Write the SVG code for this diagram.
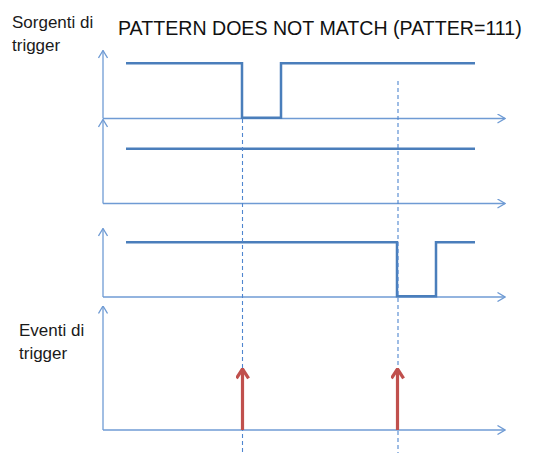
<svg xmlns="http://www.w3.org/2000/svg" width="538" height="453" viewBox="0 0 538 453">
<defs>
<style>
.axis{stroke:#6f9bd4;stroke-width:1.3;fill:none}
.sig{stroke:#4a7ebb;stroke-width:2.5;fill:none;stroke-linejoin:miter}
.dash{stroke:#4f86cf;stroke-width:1.1;stroke-dasharray:4 3;fill:none}
.ev{stroke:#c0504d;stroke-width:3.2;fill:none}
.lbl{font-family:"Liberation Sans",Arial,sans-serif;font-size:17px;fill:#1a1a1a}
.title{font-family:"Liberation Sans",Arial,sans-serif;font-size:19.6px;fill:#111}
</style>
<marker id="ah" viewBox="0 0 10 10" refX="9.5" refY="5" markerWidth="10" markerHeight="10" markerUnits="userSpaceOnUse" orient="auto">
<path d="M2,0.5 L9.5,5 L2,9.5" fill="none" stroke="#6f9bd4" stroke-width="1.3"/>
</marker>
<marker id="rh" viewBox="0 0 12 12" refX="11" refY="6" markerWidth="14" markerHeight="14" markerUnits="userSpaceOnUse" orient="auto">
<path d="M3,0.8 L11,6 L3,11.2" fill="none" stroke="#c0504d" stroke-width="2.8"/>
</marker>
</defs>
<rect width="538" height="453" fill="#fff"/>
<g id="labels">
<text class="lbl" x="12" y="28">Sorgenti di</text>
<text class="lbl" x="12" y="51">trigger</text>
<text class="title" x="118" y="35">PATTERN DOES NOT MATCH (PATTER=111)</text>
<text class="lbl" x="19" y="336">Eventi di</text>
<text class="lbl" x="19" y="359">trigger</text>
</g>
<g id="axes">
<path class="axis" d="M103,118.5 V50.5" marker-end="url(#ah)"/>
<path class="axis" d="M103,118.5 H505" marker-end="url(#ah)"/>
<path class="axis" d="M103,203.5 V119.5" marker-end="url(#ah)"/>
<path class="axis" d="M103,203.5 H505" marker-end="url(#ah)"/>
<path class="axis" d="M103,297 V228.5" marker-end="url(#ah)"/>
<path class="axis" d="M103,297 H505" marker-end="url(#ah)"/>
<path class="axis" d="M103,430 V306" marker-end="url(#ah)"/>
<path class="axis" d="M103,430 H505" marker-end="url(#ah)"/>
</g>
<g id="signals">
<path id="signal1" class="sig" d="M126,63.3 H242 V117.7 H281 V63.3 H475"/>
<path id="signal2" class="sig" d="M126,148.7 H475"/>
<path id="signal3" class="sig" d="M126,242.3 H397 V296.3 H436 V242.3 H475"/>
</g>
<g id="connectors">
<path class="dash" d="M242.5,119 V453"/>
<path class="dash" d="M398,81 V453"/>
<path class="ev" d="M242.5,430 V369" marker-end="url(#rh)"/>
<path class="ev" d="M397.5,430 V369" marker-end="url(#rh)"/>
</g>
</svg>
